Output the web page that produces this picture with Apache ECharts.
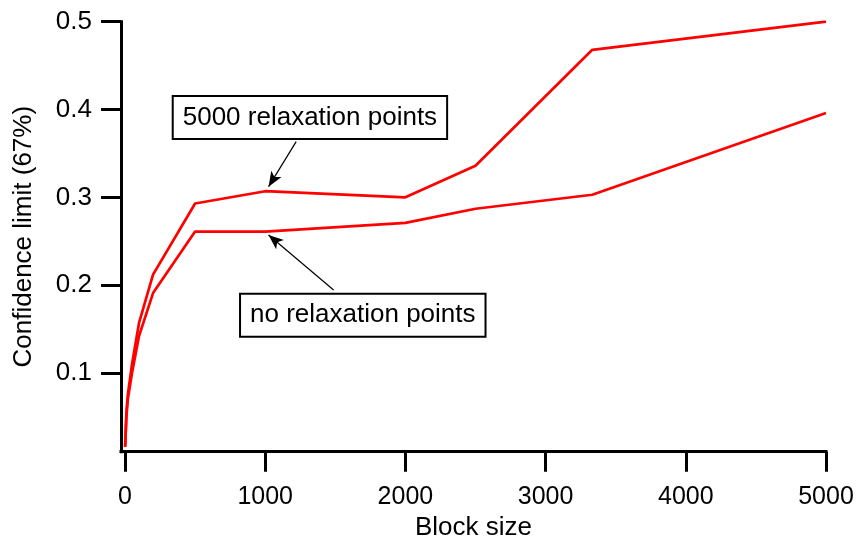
<!DOCTYPE html>
<html>
<head>
<meta charset="utf-8">
<script src="https://cdn.jsdelivr.net/npm/echarts@6/dist/echarts.min.js"></script>
<style>html,body{margin:0;padding:0;background:#fff;}#c{width:857px;height:546px;}</style>
</head>
<body>
<div id="c"></div>
<script>
var blockSizes = [1, 10, 20, 50, 100, 200, 500, 1000, 2000, 2500, 3333, 5000];
var withRelax = [0.016, 0.055, 0.075, 0.11, 0.157, 0.212, 0.293, 0.307, 0.300, 0.336, 0.468, 0.500];
var noRelax   = [0.016, 0.05, 0.07, 0.10, 0.142, 0.191, 0.261, 0.261, 0.271, 0.287, 0.303, 0.396];
var xTicks = [0, 1000, 2000, 3000, 4000, 5000];
var yTicks = [0.1, 0.2, 0.3, 0.4, 0.5];
var labelRelax = '5000 relaxation points';
var labelNoRelax = 'no relaxation points';
var labelRelaxPos = [1319, 0.3908];
var labelNoRelaxPos = [1696, 0.1657];
var arrowRelax = [[1221, 0.3635], [1024, 0.3122]];
var arrowNoRelax = [[1488, 0.1945], [1024, 0.2572]];

var font = 'Liberation Sans, Arial, sans-serif';
function pairs(xs, ys) { return xs.map(function (x, i) { return [x, ys[i]]; }); }

var chart = echarts.init(document.getElementById('c'), null, {renderer: 'canvas'});
var axisLineStyle = {color: '#000', width: 3, cap: 'square'};
var boxLabel = {
  show: true, position: 'inside', formatter: '{b}',
  color: '#000', fontSize: 26, fontFamily: font,
  backgroundColor: '#fff', borderColor: '#000', borderWidth: 2,
  padding: [6, 9, 5, 9], lineHeight: 30
};
chart.setOption({
  animation: false,
  backgroundColor: '#fff',
  grid: {left: 121, right: 31, top: 21.7, bottom: 94.3},
  xAxis: {
    type: 'value', min: -28.5, max: 5000,
    name: 'Block size', nameLocation: 'middle', nameGap: 62,
    nameTextStyle: {color: '#000', fontSize: 26, fontFamily: font},
    axisLine: {show: true, onZero: false, lineStyle: axisLineStyle},
    axisTick: {show: true, customValues: xTicks, length: 20, lineStyle: {color: '#000', width: 3}},
    axisLabel: {customValues: xTicks, color: '#000', fontSize: 25, fontFamily: font, margin: 33,
      formatter: function (v) { return String(Math.round(v)); }},
    splitLine: {show: false}
  },
  yAxis: {
    type: 'value', min: 0.0104, max: 0.5,
    name: 'Confidence limit (67%)', nameLocation: 'middle', nameGap: 84,
    nameTextStyle: {color: '#000', fontSize: 26, fontFamily: font},
    axisLine: {show: true, onZero: false, lineStyle: axisLineStyle},
    axisTick: {show: true, customValues: yTicks, length: 20, lineStyle: {color: '#000', width: 3}},
    axisLabel: {customValues: yTicks, color: '#000', fontSize: 26, fontFamily: font, margin: 29,
      formatter: function (v) { return v.toFixed(1); }},
    splitLine: {show: false}
  },
  series: [
    {
      type: 'line', name: labelRelax, data: pairs(blockSizes, withRelax),
      symbol: 'none', lineStyle: {color: '#ff0000', width: 2.7}, itemStyle: {color: '#ff0000'},
      markLine: {
        silent: true, animation: false, symbol: ['none', 'arrow'], symbolSize: [9, 15],
        lineStyle: {color: '#000', width: 1.2, type: 'solid'}, label: {show: false},
        itemStyle: {color: '#000'},
        emphasis: {disabled: true},
        data: [
          [{coord: arrowRelax[0]}, {coord: arrowRelax[1]}],
          [{coord: arrowNoRelax[0]}, {coord: arrowNoRelax[1]}]
        ]
      },
      markPoint: {
        silent: true, animation: false, symbol: 'rect', symbolSize: 1,
        itemStyle: {color: 'rgba(0,0,0,0)'}, label: boxLabel,
        data: [
          {name: labelRelax, coord: labelRelaxPos},
          {name: labelNoRelax, coord: labelNoRelaxPos}
        ]
      }
    },
    {
      type: 'line', name: labelNoRelax, data: pairs(blockSizes, noRelax),
      symbol: 'none', lineStyle: {color: '#ff0000', width: 2.7}, itemStyle: {color: '#ff0000'}
    }
  ]
});
</script>
</body>
</html>
